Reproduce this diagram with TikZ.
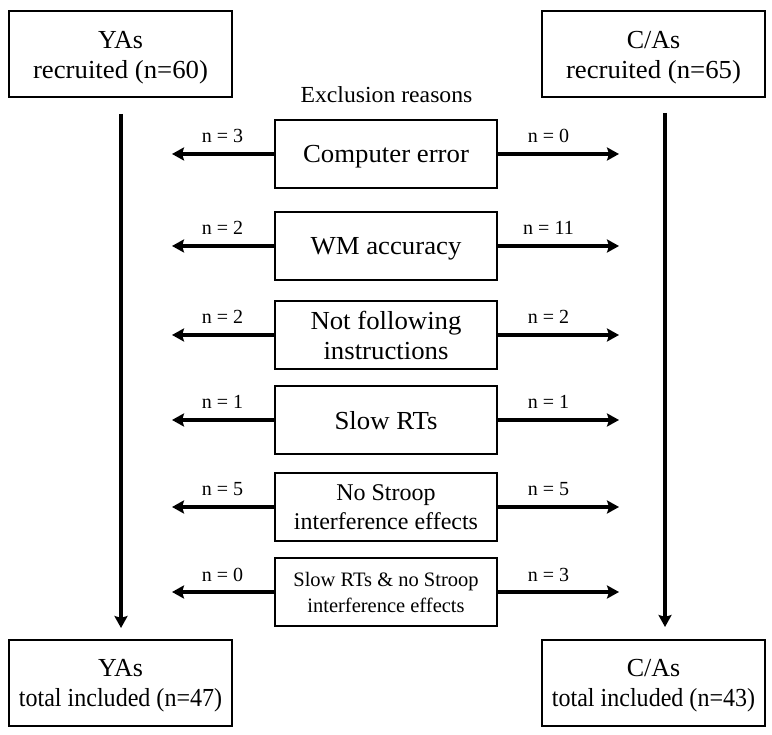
\documentclass[tikz,border=0pt]{standalone}
\usepackage{fontspec}
\setmainfont{Liberation Serif}
\usetikzlibrary{arrows.meta}
\newcommand{\nx}[2]{\scalebox{#1}[1]{#2}}
\begin{document}
\begin{tikzpicture}[x=1pt,y=-1pt,
  box/.style={draw, line width=2pt, rectangle, inner sep=0pt, align=center, text depth=0pt, font=\fontsize{26}{30}\selectfont},
  grp/.style={box, minimum width=223pt, minimum height=86pt},
  rsn/.style={box, minimum width=222pt, minimum height=68pt},
  arr/.style={line width=3.8pt, -{Stealth[length=12pt,width=13pt,inset=2pt]}},
  lbl/.style={font=\fontsize{20}{22}\selectfont, inner sep=0pt, anchor=base}]
\useasboundingbox (0,0) rectangle (772,735);
% group boxes
\node[grp] (yat) at (120.5,54.5) {YAs\\\nx{1.03}{recruited (n=60)}};
\node[grp] (cat) at (653.5,54.5) {C/As\\\nx{1.03}{recruited (n=65)}};
\node[grp] (yab) at (120.5,682.5) {YAs\\\nx{0.925}{total included (n=47)}};
\node[grp] (cab) at (653.5,682.5) {C/As\\\nx{0.925}{total included (n=43)}};
% title
\node[font=\fontsize{23}{25}\selectfont, inner sep=0pt, anchor=base] (ttl) at (386.5,103) {\nx{1.03}{Exclusion reasons}};
% reason boxes
\node[rsn] (r1) at (386,154) {\nx{1.03}{Computer error}};
\node[rsn] (r2) at (386,246) {\nx{1.03}{WM accuracy}};
\node[rsn] (r3) at (386,335) {\nx{1.03}{Not following}\\\nx{1.03}{instructions}};
\node[rsn] (r4) at (386,420) {\nx{1.03}{Slow RTs}};
\node[rsn, font=\fontsize{24}{29}\selectfont] (r5) at (386,507) {No Stroop\\interference effects};
\node[rsn, font=\fontsize{20.5}{26}\selectfont] (r6) at (386,592) {Slow RTs \& no Stroop\\interference effects};
% vertical arrows
\coordinate (vlt) at (121,114);
\coordinate (vlb) at (121,628);
\coordinate (vrt) at (665,113);
\coordinate (vrb) at (665,627);
\draw[arr] (vlt) -- (vlb);
\draw[arr] (vrt) -- (vrb);
% horizontal arrows
\foreach \i/\y/\a/\b in {1/154/3/0, 2/246/2/11, 3/335/2/2, 4/420/1/1, 5/507/5/5, 6/592/0/3}{
  \coordinate (L\i) at (172,\y);
  \coordinate (R\i) at (619,\y);
  \draw[arr] (r\i.west) -- (L\i);
  \draw[arr] (r\i.east) -- (R\i);
  \node[lbl] (nl\i) at (222.5,\y-11) {n = \a};
  \node[lbl] (nr\i) at (548.5,\y-11) {n = \b};
}
\end{tikzpicture}
\end{document}
